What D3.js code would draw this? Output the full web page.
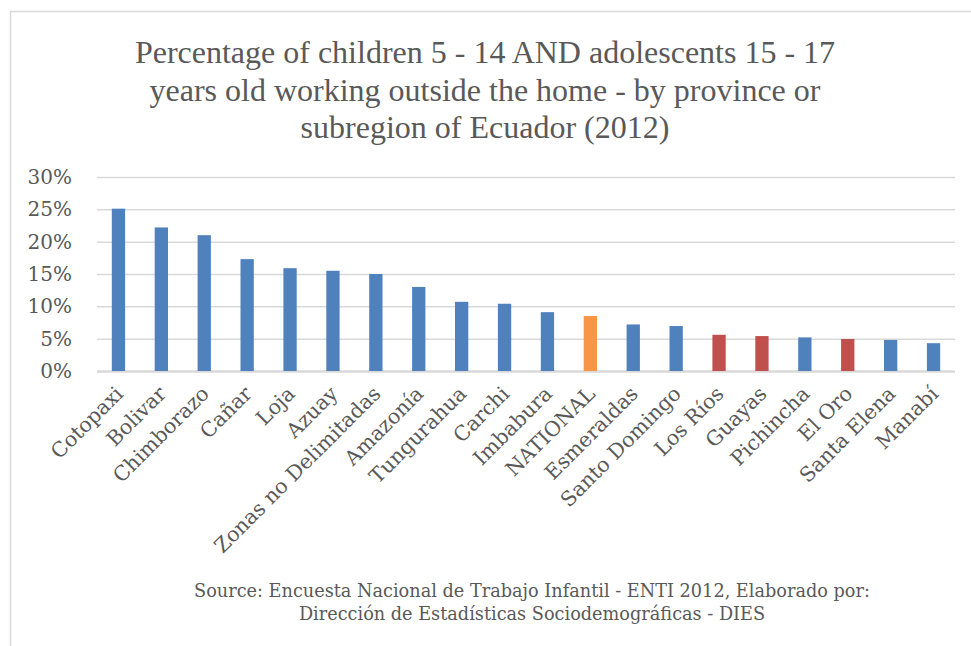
<!DOCTYPE html>
<html>
<head>
<meta charset="utf-8">
<script src="https://cdn.jsdelivr.net/npm/d3@7"></script>
<style>
  body { margin: 0; background: #fff; }
  svg { display: block; }
</style>
</head>
<body>
<div id="chart"></div>
<script>
// data
const provinces = ["Cotopaxi", "Bolivar", "Chimborazo", "Cañar", "Loja", "Azuay",
  "Zonas no Delimitadas", "Amazonía", "Tungurahua", "Carchi", "Imbabura", "NATIONAL",
  "Esmeraldas", "Santo Domingo", "Los Ríos", "Guayas", "Pichincha", "El Oro",
  "Santa Elena", "Manabí"];
const shares = [25.1, 22.2, 21.0, 17.3, 15.9, 15.5, 15.0, 13.0, 10.7, 10.4, 9.1, 8.5,
  7.2, 6.95, 5.6, 5.4, 5.2, 4.95, 4.8, 4.3];
const coastal = ["Los Ríos", "Guayas", "El Oro"];
const nationalLabel = "NATIONAL";
const yTicks = [0, 5, 10, 15, 20, 25, 30];

const titleLines = [
  "Percentage of children 5 - 14 AND adolescents 15 - 17",
  "years old working outside the home - by province or",
  "subregion of Ecuador (2012)"
];
const sourceLines = [
  "Source: Encuesta Nacional de Trabajo Infantil - ENTI 2012, Elaborado por:",
  "Dirección de Estadísticas Sociodemográficas - DIES"
];

const colors = {
  bar: "#4F81BD",
  national: "#F79646",
  coastal: "#C0504D",
  grid: "#D9D9D9",
  text: "#595959"
};

const W = 971, H = 646;
const plot = { left: 97, right: 955, top: 177, bottom: 371 };

const svg = d3.select("#chart").append("svg")
  .attr("width", W)
  .attr("height", H);

// chart frame (only top and left edges show in the crop)
svg.append("rect")
  .attr("x", 10.5).attr("y", 11.5)
  .attr("width", 990).attr("height", 700)
  .attr("fill", "none")
  .attr("stroke", "#D9D9D9")
  .attr("stroke-width", 1.5);

// scales
const x = d3.scaleBand()
  .domain(provinces)
  .range([plot.left, plot.right])
  .paddingInner(0.69)
  .paddingOuter(0.345);

const y = d3.scaleLinear()
  .domain([0, 30])
  .range([plot.bottom, plot.top]);

// gridlines + y labels
const yAxis = svg.append("g")
  .attr("transform", `translate(${plot.left},0)`)
  .call(d3.axisLeft(y).tickValues(yTicks).tickSize(-(plot.right - plot.left))
    .tickPadding(25).tickFormat(d => d + "%"));
yAxis.select(".domain").remove();
yAxis.selectAll(".tick line")
  .attr("stroke", colors.grid)
  .attr("stroke-width", d => d === 0 ? 2.5 : 1.5);
yAxis.selectAll(".tick text")
  .attr("fill", colors.text)
  .style("font-family", "'DejaVu Serif', serif")
  .style("font-size", "20px");

// bars
svg.selectAll("rect.bar")
  .data(provinces)
  .enter()
  .append("rect")
  .attr("class", "bar")
  .attr("x", d => x(d))
  .attr("width", x.bandwidth())
  .attr("y", (d, i) => y(shares[i]))
  .attr("height", (d, i) => y(0) - y(shares[i]))
  .attr("fill", d => d === nationalLabel ? colors.national
    : coastal.includes(d) ? colors.coastal : colors.bar);

// category labels, rotated
svg.append("g")
  .selectAll("text")
  .data(provinces)
  .enter()
  .append("text")
  .attr("transform", d => `translate(${x(d) + x.bandwidth() / 2 + 6},${plot.bottom + 24}) rotate(-45)`)
  .attr("text-anchor", "end")
  .attr("fill", colors.text)
  .style("font-family", "'DejaVu Serif', serif")
  .style("font-size", "20.5px")
  .text(d => d);

// title
svg.append("g")
  .selectAll("text")
  .data(titleLines)
  .enter()
  .append("text")
  .attr("x", 485)
  .attr("y", (d, i) => 63 + i * 37.5)
  .attr("text-anchor", "middle")
  .attr("fill", colors.text)
  .style("font-family", "'Liberation Serif', serif")
  .style("font-size", "32px")
  .text(d => d);

// source note
svg.append("g")
  .selectAll("text")
  .data(sourceLines)
  .enter()
  .append("text")
  .attr("x", 532)
  .attr("y", (d, i) => 597 + i * 23)
  .attr("text-anchor", "middle")
  .attr("fill", colors.text)
  .style("font-family", "'DejaVu Serif', serif")
  .style("font-size", "17.7px")
  .text(d => d);
</script>
</body>
</html>
